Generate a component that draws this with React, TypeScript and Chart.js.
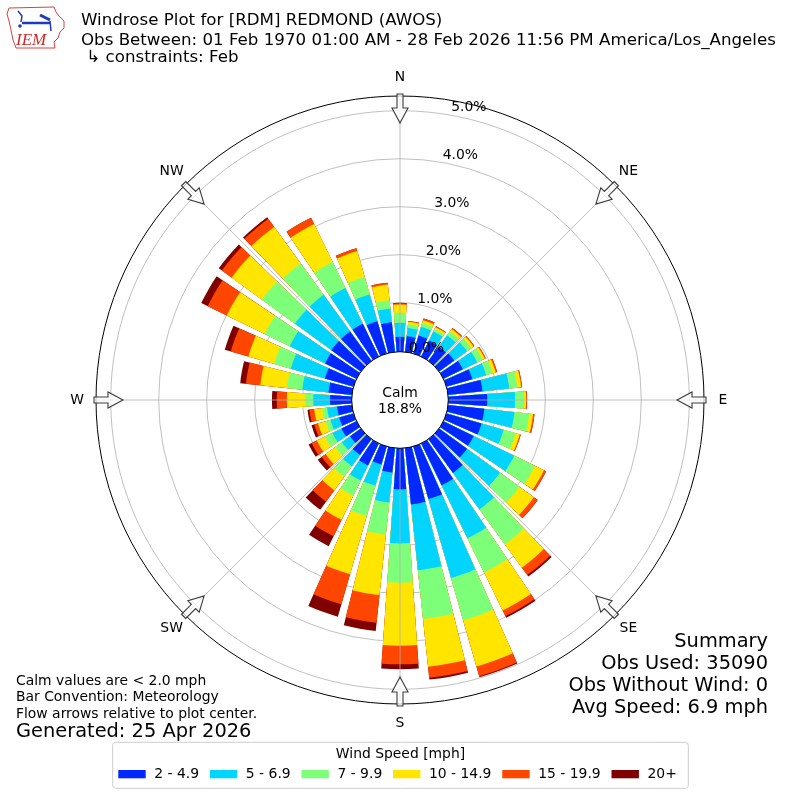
import React, { useEffect, useRef } from 'react';
import { Chart, registerables } from 'chart.js';

Chart.register(...registerables);

// ---------------- data ----------------
const DIRECTIONS = [0, 10, 20, 30, 40, 50, 60, 70, 80, 90, 100, 110, 120, 130, 140, 150, 160, 170,
  180, 190, 200, 210, 220, 230, 240, 250, 260, 270, 280, 290, 300, 310, 320, 330, 340, 350];

const SPEED_LABELS = ['2 - 4.9', '5 - 6.9', '7 - 9.9', '10 - 14.9', '15 - 19.9', '20+'];
const SPEED_COLORS = ['#0028ff', '#00d4ff', '#7dff7a', '#ffe500', '#ff4600', '#800000'];

// percent of observations per direction (10 degree bins)
const FREQ_2_5 = [0.29, 0.31, 0.37, 0.35, 0.35, 0.37, 0.43, 0.54, 0.70, 0.79, 0.74, 0.74, 0.68, 0.70, 0.85, 0.95, 1.12, 1.16,
  0.83, 0.49, 0.37, 0.49, 0.39, 0.26, 0.33, 0.29, 0.29, 0.43, 0.47, 0.60, 0.71, 0.74, 0.74, 0.74, 0.68, 0.60];
const FREQ_5_7 = [0.29, 0.17, 0.19, 0.21, 0.29, 0.33, 0.33, 0.30, 0.56, 0.58, 0.63, 0.48, 0.94, 0.85, 0.94, 1.23, 1.71, 1.38,
  1.13, 0.63, 0.46, 0.35, 0.29, 0.21, 0.21, 0.19, 0.21, 0.35, 0.55, 0.74, 0.82, 0.94, 0.94, 0.83, 0.58, 0.29];
const FREQ_7_10 = [0.21, 0.08, 0.08, 0.06, 0.10, 0.11, 0.13, 0.14, 0.17, 0.19, 0.31, 0.26, 0.48, 0.50, 0.90, 0.79, 0.92, 1.02,
  0.82, 0.67, 0.66, 0.35, 0.27, 0.17, 0.17, 0.10, 0.10, 0.17, 0.32, 0.36, 0.58, 0.85, 0.81, 0.60, 0.38, 0.17];
const FREQ_10_15 = [0.17, 0.05, 0.06, 0.04, 0.06, 0.06, 0.05, 0.07, 0.08, 0.04, 0.08, 0.09, 0.21, 0.37, 0.60, 0.88, 1.00, 1.00,
  1.31, 1.27, 1.26, 0.56, 0.35, 0.25, 0.19, 0.17, 0.17, 0.38, 0.56, 0.56, 0.88, 0.78, 0.94, 0.88, 0.56, 0.33];
const FREQ_15_20 = [0.03, 0.02, 0.04, 0.02, 0.03, 0.02, 0.02, 0.03, 0.02, 0.02, 0.03, 0.02, 0.05, 0.10, 0.19, 0.13, 0.21, 0.23,
  0.39, 0.58, 0.65, 0.38, 0.29, 0.10, 0.12, 0.08, 0.10, 0.21, 0.30, 0.38, 0.44, 0.25, 0.21, 0.15, 0.06, 0.04];
const FREQ_20_UP = [0.01, 0.00, 0.00, 0.00, 0.00, 0.00, 0.00, 0.00, 0.00, 0.00, 0.00, 0.00, 0.00, 0.00, 0.04, 0.04, 0.02, 0.04,
  0.10, 0.17, 0.27, 0.23, 0.21, 0.10, 0.07, 0.06, 0.04, 0.10, 0.12, 0.13, 0.15, 0.08, 0.04, 0.00, 0.00, 0.00];

const CALM_PERCENT = 18.8;
const RING_TICKS = [0, 1, 2, 3, 4, 5];
const COMPASS_LABELS = ['N', 'NE', 'E', 'SE', 'S', 'SW', 'W', 'NW'];

const TITLE_LINES = [
  'Windrose Plot for [RDM] REDMOND (AWOS)',
  'Obs Between: 01 Feb 1970 01:00 AM - 28 Feb 2026 11:56 PM America/Los_Angeles',
  ' \u21b3 constraints: Feb',
];
const SUMMARY_LINES = ['Summary', 'Obs Used: 35090', 'Obs Without Wind: 0', 'Avg Speed: 6.9 mph'];
const NOTE_LINES = ['Calm values are < 2.0 mph', 'Bar Convention: Meteorology', 'Flow arrows relative to plot center.'];
const GENERATED_TEXT = 'Generated: 25 Apr 2026';
const LEGEND_TITLE = 'Wind Speed [mph]';

// scale / geometry settings
const R_MIN = -1.027;
const R_MAX = 5.306;
const BAR_DEG = 8;
const GAP_DEG = 2;
const FONT = '"DejaVu Sans", "Liberation Sans", sans-serif';

const BINS = [FREQ_2_5, FREQ_5_7, FREQ_7_10, FREQ_10_15, FREQ_15_20, FREQ_20_UP];

function buildDatasets() {
  return BINS.map((_, k) => {
    const data: number[] = [];
    DIRECTIONS.forEach((_d, i) => {
      let cum = 0;
      for (let j = 0; j <= k; j++) cum += BINS[j][i];
      data.push(cum);
      data.push(0); // angular gap between bars
    });
    return {
      label: SPEED_LABELS[k],
      data,
      backgroundColor: (c: any) => (c.dataIndex % 2 === 0 ? SPEED_COLORS[k] : 'rgba(0,0,0,0)'),
      borderWidth: 0,
      angle: (c: any) => (c.dataIndex % 2 === 0 ? BAR_DEG : GAP_DEG),
    };
  });
}

function buildLabels() {
  const labels: string[] = [];
  DIRECTIONS.forEach((d) => {
    labels.push(`${d}\u00b0`);
    labels.push('');
  });
  return labels;
}

function drawLogo(ctx: CanvasRenderingContext2D) {
  ctx.save();
  ctx.strokeStyle = '#d84040';
  ctx.lineWidth = 1;
  ctx.beginPath();
  ctx.moveTo(9, 8);
  ctx.lineTo(54, 7);
  ctx.lineTo(56, 12);
  ctx.lineTo(59, 16);
  ctx.lineTo(64, 21);
  ctx.lineTo(64, 28);
  ctx.lineTo(60, 32);
  ctx.lineTo(58, 38);
  ctx.lineTo(54, 42);
  ctx.lineTo(55, 48);
  ctx.lineTo(16, 48);
  ctx.lineTo(13, 40);
  ctx.lineTo(11, 30);
  ctx.lineTo(9, 21);
  ctx.lineTo(7, 14);
  ctx.closePath();
  ctx.stroke();

  ctx.strokeStyle = '#1c3cc0';
  ctx.fillStyle = '#1c3cc0';
  ctx.lineWidth = 2.5;
  ctx.beginPath();
  ctx.moveTo(22, 23);
  ctx.lineTo(50, 23);
  ctx.stroke();
  ctx.lineWidth = 3;
  ctx.beginPath();
  ctx.moveTo(40, 15);
  ctx.lineTo(50, 20);
  ctx.stroke();
  ctx.lineWidth = 1.5;
  ctx.beginPath();
  ctx.moveTo(50, 21);
  ctx.lineTo(51, 31);
  ctx.stroke();
  ctx.beginPath();
  ctx.moveTo(18, 11);
  ctx.lineTo(22, 16);
  ctx.lineTo(21, 22);
  ctx.stroke();
  ctx.beginPath();
  ctx.arc(20, 26, 1.8, 0, Math.PI * 2);
  ctx.fill();

  ctx.fillStyle = '#d02828';
  ctx.font = 'italic 17px "Liberation Serif", "DejaVu Serif", serif';
  ctx.textAlign = 'left';
  ctx.textBaseline = 'alphabetic';
  ctx.fillText('IEM', 16, 44.5);
  ctx.restore();
}

function drawArrow(ctx: CanvasRenderingContext2D, cx: number, cy: number, deg: number, R: number) {
  const a = ((deg - 90) * Math.PI) / 180;
  const ux = Math.cos(a);
  const uy = Math.sin(a);
  const px = -uy;
  const py = ux;
  const pt = (r: number, w: number): [number, number] => [cx + ux * r + px * w, cy + uy * r + py * w];
  const rTail = R + 2;
  const rHead = R - 12;
  const rTip = R - 27;
  const pts = [pt(rTail, -3), pt(rTail, 3), pt(rHead, 3), pt(rHead, 8), pt(rTip, 0), pt(rHead, -8), pt(rHead, -3)];
  ctx.beginPath();
  ctx.moveTo(pts[0][0], pts[0][1]);
  for (let i = 1; i < pts.length; i++) ctx.lineTo(pts[i][0], pts[i][1]);
  ctx.closePath();
  ctx.fillStyle = 'rgba(255,255,255,0.7)';
  ctx.fill();
  ctx.strokeStyle = '#3a3a3a';
  ctx.lineWidth = 1.1;
  ctx.stroke();
}

const windrosePlugin = {
  id: 'windroseDecor',
  afterDatasetsDraw(chart: any) {
    const s = chart.scales.r;
    const ctx: CanvasRenderingContext2D = chart.ctx;
    const cx = s.xCenter;
    const cy = s.yCenter;
    const r0 = s.getDistanceFromCenterForValue(0);
    const R = s.drawingArea;
    ctx.save();
    ctx.strokeStyle = '#b0b0b0';
    ctx.lineWidth = 0.8;
    for (let k = 0; k < 8; k++) {
      const a = ((k * 45 - 90) * Math.PI) / 180;
      ctx.beginPath();
      ctx.moveTo(cx + r0 * Math.cos(a), cy + r0 * Math.sin(a));
      ctx.lineTo(cx + R * Math.cos(a), cy + R * Math.sin(a));
      ctx.stroke();
    }
    ctx.restore();
  },
  afterDraw(chart: any) {
    const s = chart.scales.r;
    const ctx: CanvasRenderingContext2D = chart.ctx;
    const cx = s.xCenter;
    const cy = s.yCenter;
    const R = s.drawingArea;
    const r0 = s.getDistanceFromCenterForValue(0);
    ctx.save();

    // calm circle
    ctx.beginPath();
    ctx.arc(cx, cy, r0 - 1, 0, Math.PI * 2);
    ctx.fillStyle = '#ffffff';
    ctx.fill();
    ctx.strokeStyle = '#000000';
    ctx.lineWidth = 1;
    ctx.stroke();
    ctx.fillStyle = '#000000';
    ctx.font = `13.9px ${FONT}`;
    ctx.textAlign = 'center';
    ctx.textBaseline = 'alphabetic';
    ctx.fillText('Calm', cx, cy - 3.3);
    ctx.fillText(`${CALM_PERCENT.toFixed(1)}%`, cx, cy + 12.7);

    // ring labels
    ctx.textAlign = 'left';
    RING_TICKS.forEach((v) => {
      const r = s.getDistanceFromCenterForValue(v);
      ctx.fillText(`${v.toFixed(1)}%`, cx + 0.177 * r, cy - r + 0.8);
    });

    // compass arrows + labels
    COMPASS_LABELS.forEach((lab, k) => {
      const deg = k * 45;
      drawArrow(ctx, cx, cy, deg, R);
      const a = ((deg - 90) * Math.PI) / 180;
      ctx.fillStyle = '#000000';
      ctx.font = `13.9px ${FONT}`;
      ctx.textAlign = 'center';
      ctx.textBaseline = 'middle';
      ctx.fillText(lab, cx + (R + 19) * Math.cos(a), cy + (R + 19) * Math.sin(a));
    });

    // title
    ctx.textAlign = 'left';
    ctx.textBaseline = 'alphabetic';
    ctx.font = `16.67px ${FONT}`;
    const titleY = [25, 45, 61.5];
    TITLE_LINES.forEach((t, i) => ctx.fillText(t, 81, titleY[i]));
    drawLogo(ctx);

    // summary
    ctx.textAlign = 'right';
    ctx.font = `19.4px ${FONT}`;
    SUMMARY_LINES.forEach((t, i) => ctx.fillText(t, 768, 647 + i * 22));

    // notes
    ctx.textAlign = 'left';
    ctx.font = `13.9px ${FONT}`;
    NOTE_LINES.forEach((t, i) => ctx.fillText(t, 16, 685 + i * 16.3));
    ctx.font = `19.4px ${FONT}`;
    ctx.fillText(GENERATED_TEXT, 16, 737);

    // legend
    const lx = 112.7;
    const ly = 742.3;
    const lw = 575.6;
    const lh = 46;
    ctx.beginPath();
    (ctx as any).roundRect(lx, ly, lw, lh, 3);
    ctx.fillStyle = 'rgba(255,255,255,0.8)';
    ctx.fill();
    ctx.strokeStyle = '#cccccc';
    ctx.lineWidth = 1;
    ctx.stroke();
    ctx.fillStyle = '#000000';
    ctx.font = `13.9px ${FONT}`;
    ctx.textAlign = 'center';
    ctx.textBaseline = 'alphabetic';
    ctx.fillText(LEGEND_TITLE, lx + lw / 2, 758.3);
    ctx.textAlign = 'left';
    ctx.textBaseline = 'middle';
    let x = 118.3;
    chart.data.datasets.forEach((ds: any, i: number) => {
      ctx.fillStyle = SPEED_COLORS[i];
      ctx.fillRect(x, 770, 27.4, 8.3);
      ctx.fillStyle = '#000000';
      const tx = x + 36;
      ctx.fillText(ds.label, tx, 774.3);
      x = tx + ctx.measureText(ds.label).width + 10.8;
    });

    ctx.restore();
  },
};

export default function App() {
  const canvasRef = useRef<HTMLCanvasElement | null>(null);

  useEffect(() => {
    if (!canvasRef.current) return;
    const chart = new Chart(canvasRef.current, {
      type: 'polarArea',
      data: {
        labels: buildLabels(),
        datasets: buildDatasets() as any,
      },
      options: {
        responsive: false,
        animation: false,
        layout: { padding: 96 },
        plugins: {
          legend: { display: false },
          tooltip: { enabled: false },
          title: { display: false },
        },
        scales: {
          r: {
            type: 'radialLinear',
            min: R_MIN,
            max: R_MAX,
            beginAtZero: false,
            startAngle: -BAR_DEG / 2,
            z: 1,
            angleLines: { display: false },
            pointLabels: { display: false },
            ticks: { display: false },
            grid: {
              circular: true,
              color: (c: any) => (c.tick && c.tick.value === R_MAX ? '#000000' : '#b0b0b0'),
              lineWidth: (c: any) => (c.tick && c.tick.value === R_MAX ? 1 : 0.8),
            },
            afterBuildTicks: (scale: any) => {
              scale.ticks = [...RING_TICKS, R_MAX].map((v) => ({ value: v }));
            },
          } as any,
        },
      },
      plugins: [windrosePlugin as any],
    });
    return () => chart.destroy();
  }, []);

  return (
    <div style={{ position: 'absolute', left: 0, top: 0, width: 800, height: 800, background: '#ffffff' }}>
      <canvas ref={canvasRef} width={800} height={800} style={{ display: 'block', width: 800, height: 800 }} />
    </div>
  );
}
